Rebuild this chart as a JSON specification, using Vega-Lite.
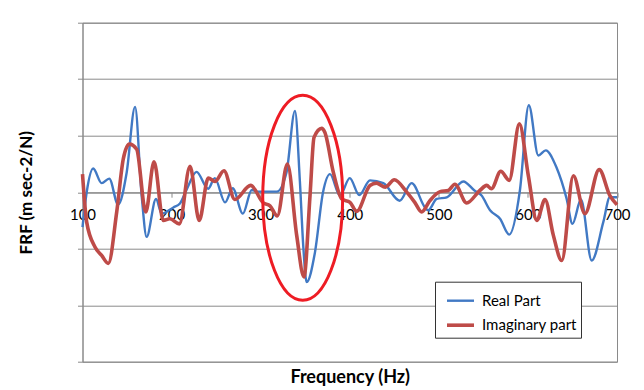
{
  "$schema": "https://vega.github.io/schema/vega-lite/v6.json",
  "width": 534.5,
  "height": 339,
  "autosize": {"type": "none"},
  "padding": {"left": 82.5, "top": 22.7, "right": 27, "bottom": 28.3},
  "background": "white",
  "config": {"font": "Lato", "view": {"stroke": "#8a8a8a", "strokeWidth": 1}},
  "datasets": {
    "frf": [
      {"freq": 100, "frf": -0.62, "series": "Real Part"},
      {"freq": 104.7, "frf": 0.0, "series": "Real Part"},
      {"freq": 112, "frf": 0.42, "series": "Real Part"},
      {"freq": 121.5, "frf": 0.16, "series": "Real Part"},
      {"freq": 130, "frf": 0.24, "series": "Real Part"},
      {"freq": 140, "frf": -0.22, "series": "Real Part"},
      {"freq": 149.6, "frf": 0.35, "series": "Real Part"},
      {"freq": 159, "frf": 1.51, "series": "Real Part"},
      {"freq": 166.4, "frf": -0.06, "series": "Real Part"},
      {"freq": 172, "frf": -0.79, "series": "Real Part"},
      {"freq": 182.5, "frf": -0.12, "series": "Real Part"},
      {"freq": 189, "frf": -0.38, "series": "Real Part"},
      {"freq": 202, "frf": -0.27, "series": "Real Part"},
      {"freq": 209.4, "frf": -0.2, "series": "Real Part"},
      {"freq": 217, "frf": 0.05, "series": "Real Part"},
      {"freq": 228, "frf": 0.36, "series": "Real Part"},
      {"freq": 241, "frf": 0.06, "series": "Real Part"},
      {"freq": 248.5, "frf": 0.25, "series": "Real Part"},
      {"freq": 260, "frf": -0.18, "series": "Real Part"},
      {"freq": 268.6, "frf": 0.07, "series": "Real Part"},
      {"freq": 280, "frf": -0.38, "series": "Real Part"},
      {"freq": 290, "frf": 0.04, "series": "Real Part"},
      {"freq": 296, "frf": 0.01, "series": "Real Part"},
      {"freq": 318, "frf": 0.01, "series": "Real Part"},
      {"freq": 329, "frf": 0.35, "series": "Real Part"},
      {"freq": 338.5, "frf": 1.44, "series": "Real Part"},
      {"freq": 344, "frf": 0.2, "series": "Real Part"},
      {"freq": 348, "frf": -1.0, "series": "Real Part"},
      {"freq": 351.6, "frf": -1.59, "series": "Real Part"},
      {"freq": 361, "frf": -1.06, "series": "Real Part"},
      {"freq": 370, "frf": 0.0, "series": "Real Part"},
      {"freq": 377.8, "frf": 0.32, "series": "Real Part"},
      {"freq": 389, "frf": -0.06, "series": "Real Part"},
      {"freq": 400, "frf": 0.25, "series": "Real Part"},
      {"freq": 410.7, "frf": -0.05, "series": "Real Part"},
      {"freq": 422.7, "frf": 0.21, "series": "Real Part"},
      {"freq": 437.7, "frf": 0.16, "series": "Real Part"},
      {"freq": 456, "frf": -0.15, "series": "Real Part"},
      {"freq": 469.5, "frf": 0.16, "series": "Real Part"},
      {"freq": 484.5, "frf": -0.27, "series": "Real Part"},
      {"freq": 488, "frf": -0.32, "series": "Real Part"},
      {"freq": 497.6, "frf": -0.12, "series": "Real Part"},
      {"freq": 508.9, "frf": -0.09, "series": "Real Part"},
      {"freq": 527.5, "frf": 0.19, "series": "Real Part"},
      {"freq": 540, "frf": 0.03, "series": "Real Part"},
      {"freq": 548, "frf": -0.06, "series": "Real Part"},
      {"freq": 557.5, "frf": -0.32, "series": "Real Part"},
      {"freq": 568.7, "frf": -0.47, "series": "Real Part"},
      {"freq": 579, "frf": -0.75, "series": "Real Part"},
      {"freq": 591, "frf": 0.03, "series": "Real Part"},
      {"freq": 601, "frf": 1.54, "series": "Real Part"},
      {"freq": 611.7, "frf": 0.65, "series": "Real Part"},
      {"freq": 620, "frf": 0.74, "series": "Real Part"},
      {"freq": 632, "frf": 0.44, "series": "Real Part"},
      {"freq": 643.5, "frf": -0.12, "series": "Real Part"},
      {"freq": 650, "frf": -0.56, "series": "Real Part"},
      {"freq": 659.6, "frf": -0.13, "series": "Real Part"},
      {"freq": 671.6, "frf": -1.21, "series": "Real Part"},
      {"freq": 684.6, "frf": -0.53, "series": "Real Part"},
      {"freq": 692, "frf": -0.09, "series": "Real Part"},
      {"freq": 700, "frf": -0.09, "series": "Real Part"},
      {"freq": 100, "frf": 0.32, "series": "Imaginary part"},
      {"freq": 104.7, "frf": -0.53, "series": "Imaginary part"},
      {"freq": 114, "frf": -0.97, "series": "Imaginary part"},
      {"freq": 121.5, "frf": -1.12, "series": "Imaginary part"},
      {"freq": 129, "frf": -1.26, "series": "Imaginary part"},
      {"freq": 138.4, "frf": -0.35, "series": "Imaginary part"},
      {"freq": 145.8, "frf": 0.59, "series": "Imaginary part"},
      {"freq": 152.6, "frf": 0.85, "series": "Imaginary part"},
      {"freq": 160.8, "frf": 0.76, "series": "Imaginary part"},
      {"freq": 171, "frf": -0.35, "series": "Imaginary part"},
      {"freq": 180.3, "frf": 0.54, "series": "Imaginary part"},
      {"freq": 190.7, "frf": -0.5, "series": "Imaginary part"},
      {"freq": 198, "frf": -0.47, "series": "Imaginary part"},
      {"freq": 208.7, "frf": -0.56, "series": "Imaginary part"},
      {"freq": 220.7, "frf": 0.46, "series": "Imaginary part"},
      {"freq": 231, "frf": -0.5, "series": "Imaginary part"},
      {"freq": 241.2, "frf": 0.25, "series": "Imaginary part"},
      {"freq": 248.7, "frf": 0.19, "series": "Imaginary part"},
      {"freq": 258.8, "frf": 0.38, "series": "Imaginary part"},
      {"freq": 271, "frf": -0.13, "series": "Imaginary part"},
      {"freq": 288.8, "frf": 0.12, "series": "Imaginary part"},
      {"freq": 303, "frf": -0.19, "series": "Imaginary part"},
      {"freq": 310.5, "frf": -0.24, "series": "Imaginary part"},
      {"freq": 318.7, "frf": -0.42, "series": "Imaginary part"},
      {"freq": 330, "frf": 0.5, "series": "Imaginary part"},
      {"freq": 340.4, "frf": -0.76, "series": "Imaginary part"},
      {"freq": 348.6, "frf": -1.5, "series": "Imaginary part"},
      {"freq": 355.4, "frf": -0.06, "series": "Imaginary part"},
      {"freq": 359.9, "frf": 0.97, "series": "Imaginary part"},
      {"freq": 368.5, "frf": 1.13, "series": "Imaginary part"},
      {"freq": 372, "frf": 1.06, "series": "Imaginary part"},
      {"freq": 381.6, "frf": 0.35, "series": "Imaginary part"},
      {"freq": 391, "frf": -0.12, "series": "Imaginary part"},
      {"freq": 400.3, "frf": -0.18, "series": "Imaginary part"},
      {"freq": 407.8, "frf": -0.34, "series": "Imaginary part"},
      {"freq": 422.7, "frf": 0.12, "series": "Imaginary part"},
      {"freq": 430, "frf": 0.16, "series": "Imaginary part"},
      {"freq": 440, "frf": 0.09, "series": "Imaginary part"},
      {"freq": 450, "frf": 0.22, "series": "Imaginary part"},
      {"freq": 464, "frf": 0.0, "series": "Imaginary part"},
      {"freq": 473, "frf": -0.18, "series": "Imaginary part"},
      {"freq": 480.7, "frf": -0.35, "series": "Imaginary part"},
      {"freq": 490, "frf": -0.15, "series": "Imaginary part"},
      {"freq": 501.3, "frf": 0.01, "series": "Imaginary part"},
      {"freq": 510.6, "frf": 0.03, "series": "Imaginary part"},
      {"freq": 518, "frf": 0.14, "series": "Imaginary part"},
      {"freq": 531.3, "frf": -0.19, "series": "Imaginary part"},
      {"freq": 546, "frf": 0.03, "series": "Imaginary part"},
      {"freq": 553.7, "frf": 0.12, "series": "Imaginary part"},
      {"freq": 559, "frf": 0.06, "series": "Imaginary part"},
      {"freq": 569.5, "frf": 0.37, "series": "Imaginary part"},
      {"freq": 579, "frf": 0.21, "series": "Imaginary part"},
      {"freq": 590.4, "frf": 1.21, "series": "Imaginary part"},
      {"freq": 600.5, "frf": 0.29, "series": "Imaginary part"},
      {"freq": 610, "frf": -0.5, "series": "Imaginary part"},
      {"freq": 619.2, "frf": -0.13, "series": "Imaginary part"},
      {"freq": 628.5, "frf": -0.76, "series": "Imaginary part"},
      {"freq": 638, "frf": -1.21, "series": "Imaginary part"},
      {"freq": 651, "frf": 0.29, "series": "Imaginary part"},
      {"freq": 664, "frf": -0.38, "series": "Imaginary part"},
      {"freq": 680, "frf": 0.4, "series": "Imaginary part"},
      {"freq": 692, "frf": -0.06, "series": "Imaginary part"},
      {"freq": 700, "frf": -0.22, "series": "Imaginary part"}
    ],
    "highlight": [{"freq": 347.2, "frf": -0.1}]
  },
  "layer": [
    {
      "data": {"name": "frf"},
      "mark": {"type": "line", "interpolate": "monotone"},
      "encoding": {
        "x": {
          "field": "freq", "type": "quantitative",
          "scale": {"domain": [100, 700], "nice": false, "zero": false},
          "axis": {
            "orient": "bottom",
            "title": null, "values": [100, 200, 300, 400, 500, 600, 700],
            "offset": -169.5, "grid": false,
            "domainColor": "#8a8a8a", "tickColor": "#8a8a8a", "tickSize": 5,
            "labelFontSize": 15, "labelColor": "#000", "labelPadding": 10,
            "labelFlush": false, "labelOverlap": false
          }
        },
        "y": {
          "field": "frf", "type": "quantitative",
          "scale": {"domain": [-3, 3], "nice": false},
          "axis": {
            "orient": "left",
            "title": "FRF (m sec-2/N)", "values": [-3, -2, -1, 0, 1, 2, 3],
            "labels": false, "grid": true, "gridColor": "#8a8a8a", "gridOpacity": 1,
            "domainColor": "#8a8a8a", "tickColor": "#8a8a8a", "tickSize": 5,
            "titleFontSize": 17, "titleFontWeight": "bold", "titlePadding": 42, "titleColor": "#000"
          }
        },
        "color": {
          "field": "series", "type": "ordinal",
          "scale": {"domain": ["Real Part", "Imaginary part"], "range": ["#4179C4", "#BE4B48"]},
          "legend": {
            "title": null, "orient": "none", "legendX": 352.5, "legendY": 259,
            "strokeColor": "#333", "fillColor": "white", "padding": 4,
            "symbolType": "stroke", "symbolSize": 729, "symbolOffset": 6,
            "labelFontSize": 15, "labelColor": "#000", "labelOffset": 6, "rowPadding": 1
          }
        },
        "strokeWidth": {
          "field": "series", "type": "ordinal",
          "scale": {"domain": ["Real Part", "Imaginary part"], "range": [2.4, 3.6]},
          "legend": {
            "title": null, "orient": "none", "legendX": 352.5, "legendY": 259,
            "strokeColor": "#333", "fillColor": "white", "padding": 4,
            "symbolType": "stroke", "symbolSize": 729, "symbolOffset": 6,
            "labelFontSize": 15, "labelColor": "#000", "labelOffset": 6, "rowPadding": 1
          }
        }
      }
    },
    {
      "data": {"name": "highlight"},
      "mark": {
        "type": "point",
        "shape": "M0,-1 C0.2154,-1 0.39,-0.5523 0.39,0 C0.39,0.5523 0.2154,1 0,1 C-0.2154,1 -0.39,0.5523 -0.39,0 C-0.39,-0.5523 -0.2154,-1 0,-1 Z",
        "size": 42025, "filled": false, "stroke": "#EE1C24", "strokeWidth": 3, "opacity": 1
      },
      "encoding": {
        "x": {
          "field": "freq", "type": "quantitative",
          "axis": {
            "orient": "bottom",
            "title": "Frequency (Hz)", "labels": false, "ticks": false, "domain": false, "grid": false,
            "titleFontSize": 18, "titleFontWeight": "bold", "titlePadding": 7, "titleColor": "#000"
          }
        },
        "y": {"field": "frf", "type": "quantitative", "axis": null}
      }
    }
  ],
  "resolve": {"axis": {"x": "independent", "y": "independent"}}
}
